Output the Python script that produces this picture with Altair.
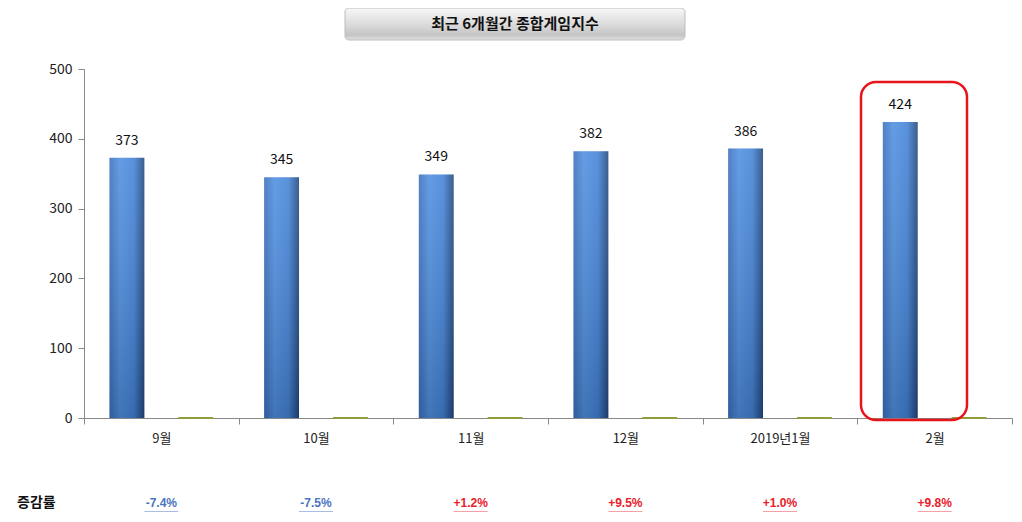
import altair as alt
import pandas as pd

months = ["9월", "10월", "11월", "12월", "2019년1월", "2월"]
index_values = [373, 345, 349, 382, 386, 424]
other_values = [0, 0, 0, 0, 0, 0]
changes = ["-7.4%", "-7.5%", "+1.2%", "+9.5%", "+1.0%", "+9.8%"]
title_text = "최근 6개월간 종합게임지수"
row_label = "증감률"

FONT = "Noto Sans CJK KR"

rows = []
for m, v, o in zip(months, index_values, other_values):
    rows.append({"month": m, "series": "a", "value": v})
    rows.append({"month": m, "series": "b", "value": o})
df = pd.DataFrame(rows)

chg = pd.DataFrame({"month": months, "change": changes,
                    "neg": [c.startswith("-") for c in changes]})

x_enc = alt.X("month:N", sort=months,
              scale=alt.Scale(paddingInner=0, paddingOuter=0),
              axis=alt.Axis(title=None, labelAngle=0, tickBand="extent",
                            labelFont=FONT, labelFontSize=13, labelColor="#222",
                            labelPadding=8, tickSize=6, domainColor="#888",
                            tickColor="#888"))
y_enc = alt.Y("value:Q", scale=alt.Scale(domain=[0, 500]),
              axis=alt.Axis(title=None, values=[0, 100, 200, 300, 400, 500],
                            grid=False, labelFont=FONT, labelFontSize=14,
                            labelColor="#222", tickSize=6, labelPadding=6,
                            domainColor="#888", tickColor="#888"))
off = alt.XOffset("series:N", scale=alt.Scale(paddingInner=0.493, paddingOuter=0.37))

blue_grad = alt.Gradient(
    gradient="linear", x1=0, x2=1, y1=0, y2=0,
    stops=[alt.GradientStop(color="#3a6fbc", offset=0),
           alt.GradientStop(color="#4f8fe0", offset=0.3),
           alt.GradientStop(color="#4282d6", offset=0.7),
           alt.GradientStop(color="#22477f", offset=1)])
shade_grad = alt.Gradient(
    gradient="linear", x1=0, x2=0, y1=0, y2=1,
    stops=[alt.GradientStop(color="rgba(255,255,255,0.12)", offset=0),
           alt.GradientStop(color="rgba(0,0,0,0.18)", offset=1)])

base = alt.Chart(df)
bars_a = base.transform_filter(alt.datum.series == "a").mark_bar(
    fill=blue_grad).encode(x=x_enc, xOffset=off, y=y_enc)
shade = base.transform_filter(alt.datum.series == "a").mark_bar(
    fill=shade_grad).encode(x=x_enc, xOffset=off, y=y_enc)
bars_b = base.transform_filter(alt.datum.series == "b").mark_bar(
    fill="#8f9e3a", stroke="#8f9e3a", strokeWidth=2).encode(
    x=x_enc, xOffset=off, y=y_enc)
labels = base.transform_filter(alt.datum.series == "a").mark_text(
    font=FONT, fontSize=14, color="#111", baseline="bottom", dy=-10).encode(
    x=x_enc, xOffset=off, y=y_enc, text="value:Q")

chg_base = alt.Chart(chg)
chg_text = chg_base.mark_text(font="Liberation Sans", fontSize=12,
                              fontWeight="bold", baseline="middle").encode(
    x=x_enc, y=alt.value(434), text="change:N",
    color=alt.condition(alt.datum.neg, alt.value("#4a74c0"), alt.value("#e8202a")))
chg_line = chg_base.mark_bar(size=34).encode(
    x=x_enc, y=alt.value(442), y2=alt.value(443),
    color=alt.condition(alt.datum.neg, alt.value("#a9bde3"), alt.value("#f3a3a8")))

one = pd.DataFrame({"t": [title_text], "r": [row_label]})
row_lbl = alt.Chart(one).mark_text(font=FONT, fontSize=14, fontWeight="bold",
                                   color="#111", align="left").encode(
    x=alt.value(-67), y=alt.value(434), text="r:N")

title_grad = alt.Gradient(
    gradient="linear", x1=0, x2=0, y1=0, y2=1,
    stops=[alt.GradientStop(color="#f7f7f7", offset=0),
           alt.GradientStop(color="#dcdcdc", offset=0.5),
           alt.GradientStop(color="#c4c4c4", offset=0.85),
           alt.GradientStop(color="#e2e2e2", offset=1)])
title_box = alt.Chart(one).mark_rect(fill=title_grad, stroke="#bdbdbd",
                                     strokeWidth=1, cornerRadius=4).encode(
    x=alt.value(261), x2=alt.value(601), y=alt.value(-61), y2=alt.value(-29))
title_txt = alt.Chart(one).mark_text(font=FONT, fontSize=15, fontWeight="bold",
                                     color="#111").encode(
    x=alt.value(431), y=alt.value(-45), text="t:N")

highlight = alt.Chart(one).mark_rect(fill="transparent", stroke="#e8141c",
                                     strokeWidth=2.5, cornerRadius=15).encode(
    x=alt.value(777), x2=alt.value(883), y=alt.value(13), y2=alt.value(351))

chart = alt.layer(bars_a, shade, bars_b, labels, chg_line, chg_text, row_lbl,
                  title_box, title_txt, highlight).properties(
    width=928, height=349,
    background="white",
    autosize=alt.AutoSizeParams(type="none"),
    padding={"left": 76, "top": 61, "right": 2, "bottom": 95},
).configure_view(stroke="transparent", strokeWidth=0)

chart.save("out.html", embed_options={"renderer": "svg", "actions": False})
